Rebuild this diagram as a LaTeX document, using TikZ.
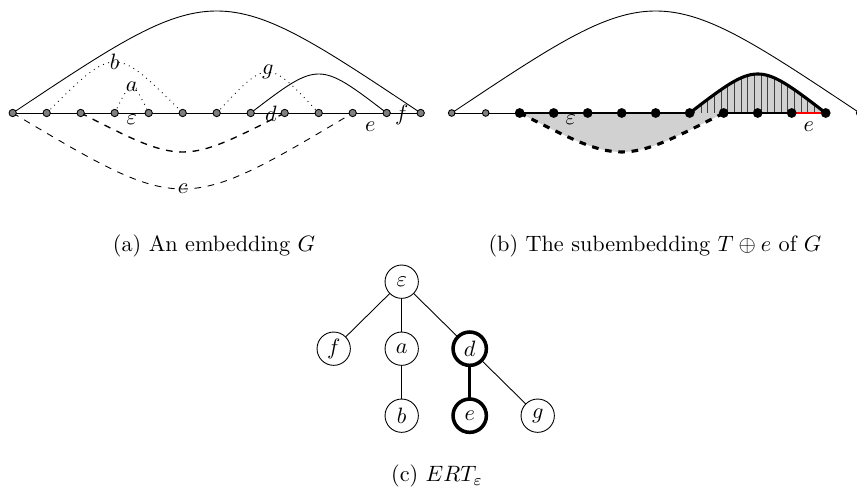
\documentclass[tikz,border=0pt]{standalone}
\usetikzlibrary{positioning, patterns}

\begin{document}
\begin{tikzpicture}[
    x=0.45pt, y=-0.45pt,
    node distance=15.15pt and 15.6pt,
    gvert/.style={circle, draw, fill=gray, inner sep=0pt, minimum size=3.3pt},
    gsmall/.style={circle, draw, fill=gray, inner sep=0pt, minimum size=3pt},
    bvert/.style={circle, fill=black, inner sep=0pt, minimum size=4.4pt},
    tnode/.style={circle, draw, inner sep=1pt, outer sep=0pt, minimum size=15pt},
    hl/.style={ultra thick},
]
\useasboundingbox (0,0) rectangle (857,496);
\clip (0,0) rectangle (857,496);

% vertices of both embeddings
\foreach \i in {0,...,12} {
    \coordinate (a\i) at ({12.7+34*\i}, 113);
    \coordinate (b\i) at ({451.7+34*\i}, 113);
}

% (a) embedding G
\draw (a0) -- (a12);
\draw (a0) .. controls (216.7,-23) .. (a12);
\draw (a7) .. controls (318.7,61) .. (a11);
\draw[dotted] (a1) .. controls (114.7,45) .. (a5) node[midway] (lb) {$b$};
\draw[dotted] (a3) .. controls (131.7,78.3) .. (a4) node[midway] (la) {$a$};
\draw[dotted] (a6) .. controls (267.7,58.3) .. (a9) node[midway] (lg) {$g$};
\draw[dashed] (a0) .. controls (182.7,214.3) .. (a10) node[midway] (lc) {$c$};
\draw[dashed, semithick] (a2) .. controls (182.7,165) .. (a8);
\foreach \i in {0,...,12} \node[gvert] (ga\i) at (a\i) {};
\node (leps) at (131.7,120) {$\varepsilon$};
\node (ld) at (271,114) {$d$};
\node (le) at (370.3,126.7) {$e$};
\node (lf) at (401.7,115) {$f$};

% (b) subembedding T + e
\fill[black!18] (b2) -- (b7) .. controls (757.7,61) .. (b11) -- (b8) .. controls (621.7,165) .. (b2) -- cycle;
\fill[pattern=vertical lines, pattern color=black!75] (b7) .. controls (757.7,61) .. (b11) -- cycle;
\draw (b0) -- (b2);
\draw[line width=1pt] (b2) -- (b7);
\draw[line width=1pt] (b8) -- (b10);
\draw[line width=1pt, red] (b10) -- (b11);
\draw[line width=1.4pt] (b7) .. controls (757.7,61) .. (b11);
\draw[line width=1.4pt, dashed] (b2) .. controls (621.7,165) .. (b8);
\draw (b0) .. controls (655.7,-23) .. (b12);
\foreach \i in {0,1,12} \node[gsmall] (gb\i) at (b\i) {};
\foreach \i in {2,...,11} \node[bvert] (gb\i) at (b\i) {};
\node (beps) at (570.7,120) {$\varepsilon$};
\node (be) at (808.7,126.7) {$e$};

% (c) tree ERT
\node[tnode] (te) at (401.7,281.7) {$\varepsilon$};
\node[tnode, below=of te] (ta) {$a$};
\node[tnode, left=of ta] (tf) {$f$};
\node[tnode, hl, right=of ta] (td) {$d$};
\node[tnode, below=of ta] (tb) {$b$};
\node[tnode, hl, below=of td] (tee) {$e$};
\node[tnode, right=of tee] (tg) {$g$};
\draw (te) -- (tf);
\draw (te) -- (ta);
\draw (te) -- (td);
\draw (ta) -- (tb);
\draw[very thick] (td) -- (tee);
\draw (td) -- (tg);

% captions
\node[anchor=base] (capa) at (214,251.7) {(a) An embedding $G$};
\node[anchor=base] (capb) at (655,251.7) {(b) The subembedding $T \oplus e$ of $G$};
\node[anchor=base] (capc) at (437,481.7) {(c) $ERT_\varepsilon$};
\end{tikzpicture}
\end{document}
